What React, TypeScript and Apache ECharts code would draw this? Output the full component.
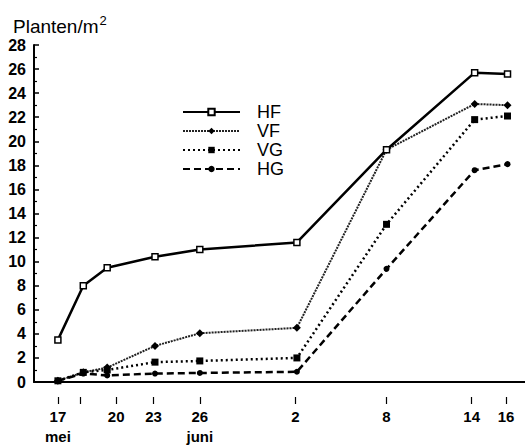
import React, { useEffect, useRef } from "react";
import * as echarts from "echarts";

// x positions in days after 17 mei, as plotted
const sampleDays = [0, 1.7, 3.3, 6.5, 9.5, 16, 22, 27.9, 30.1];
const tickDays = [0, 1.5, 3.9, 6.4, 9.5, 15.9, 22, 27.7, 30];
const tickLabels = ["17\nmei", "", "20", "23", "26\njuni", "2", "8", "14", "16"];

const seriesNames = ["HF", "VF", "VG", "HG"];
const hf = [3.5, 8.0, 9.5, 10.4, 11.0, 11.6, 19.3, 25.7, 25.6];
const vf = [0.1, 0.8, 1.2, 3.0, 4.05, 4.5, 19.3, 23.1, 23.0];
const vg = [0.1, 0.8, 1.0, 1.65, 1.75, 2.0, 13.1, 21.8, 22.1];
const hg = [0.1, 0.7, 0.55, 0.7, 0.75, 0.85, 9.4, 17.6, 18.1];

const yTicks = { min: 0, max: 28, interval: 2 };

const FONT = "'Liberation Sans', Arial, Helvetica, sans-serif";

export default function App() {
  const ref = useRef<HTMLDivElement>(null);
  useEffect(() => {
    if (!ref.current) return;
    const chart = echarts.init(ref.current, null, { renderer: "svg" });
    const pair = (vals: number[]) => vals.map((v, i) => [sampleDays[i], v]);
    const labelDays = tickDays.filter((_, i) => tickLabels[i] !== "");
    const labelFor = (v: number) => {
      let best = 0;
      tickDays.forEach((d, i) => {
        if (Math.abs(d - v) < Math.abs(tickDays[best] - v)) best = i;
      });
      return tickLabels[best];
    };
    const xMin = -1.6;
    const xMax = 31.27;
    chart.setOption({
      animation: false,
      backgroundColor: "#fff",
      textStyle: { fontFamily: FONT, color: "#000" },
      title: {
        text: "Planten/m{sup|2}",
        left: 8,
        top: 9,
        textStyle: {
          fontFamily: FONT,
          fontSize: 19,
          fontWeight: "normal",
          color: "#000",
          rich: { sup: { fontSize: 13, verticalAlign: "top", padding: [0, 0, 12, 1], fontFamily: FONT, color: "#000" } },
        },
      },
      legend: {
        data: seriesNames,
        orient: "vertical",
        left: 177,
        top: 98,
        itemWidth: 57,
        itemHeight: 8,
        itemGap: 1,
        textStyle: { fontSize: 18, lineHeight: 18, color: "#000", fontFamily: FONT, padding: [0, 0, 0, 12] },
      },
      grid: { left: 34, right: 0, top: 45, bottom: 63, containLabel: false },
      xAxis: [
        {
          type: "value",
          min: xMin,
          max: xMax,
          axisLine: { show: true, onZero: false, lineStyle: { color: "#000", width: 2 } },
          axisTick: { show: false },
          axisLabel: { show: false },
          splitLine: { show: false },
        },
        {
          type: "value",
          min: xMin,
          max: xMax,
          position: "bottom",
          offset: 15,
          axisLine: { show: false, onZero: false },
          axisTick: { show: true, customValues: tickDays, length: 7, lineStyle: { color: "#000", width: 1.2 } },
          axisLabel: {
            customValues: labelDays,
            formatter: (v: number) => labelFor(v),
            fontSize: 15,
            fontWeight: "bold",
            color: "#000",
            fontFamily: FONT,
            margin: 9,
            lineHeight: 20,
          },
          splitLine: { show: false },
        },
      ],
      yAxis: {
        type: "value",
        min: yTicks.min,
        max: yTicks.max,
        interval: yTicks.interval,
        axisLine: { show: true, onZero: false, lineStyle: { color: "#000", width: 2 } },
        axisTick: { show: true, inside: true, length: 5, lineStyle: { color: "#000", width: 1.5 } },
        minorTick: { show: true, splitNumber: 2, length: 3, lineStyle: { color: "#000", width: 1.2 } },
        axisLabel: { fontSize: 16, fontWeight: "bold", color: "#000", fontFamily: FONT, margin: 8 },
        splitLine: { show: false },
      },
      series: [
        {
          name: "HF",
          type: "line",
          data: pair(hf),
          symbol: "rect",
          symbolSize: 6,
          lineStyle: { color: "#000", width: 2.5, type: "solid" },
          itemStyle: { color: "#fff", borderColor: "#000", borderWidth: 1.5 },
          z: 5,
        },
        {
          name: "VF",
          type: "line",
          data: pair(vf),
          symbol: "diamond",
          symbolSize: 8,
          lineStyle: { color: "#222", width: 2, type: [2, 1] },
          itemStyle: { color: "#000" },
        },
        {
          name: "VG",
          type: "line",
          data: pair(vg),
          symbol: "rect",
          symbolSize: 7,
          lineStyle: { color: "#000", width: 2.5, type: [2, 3] },
          itemStyle: { color: "#000" },
        },
        {
          name: "HG",
          type: "line",
          data: pair(hg),
          symbol: "circle",
          symbolSize: 6,
          lineStyle: { color: "#000", width: 2.5, type: [7, 4] },
          itemStyle: { color: "#000" },
        },
      ],
    });
    return () => chart.dispose();
  }, []);
  return <div ref={ref} style={{ position: "fixed", left: 0, top: 0, width: 525, height: 446 }} />;
}
